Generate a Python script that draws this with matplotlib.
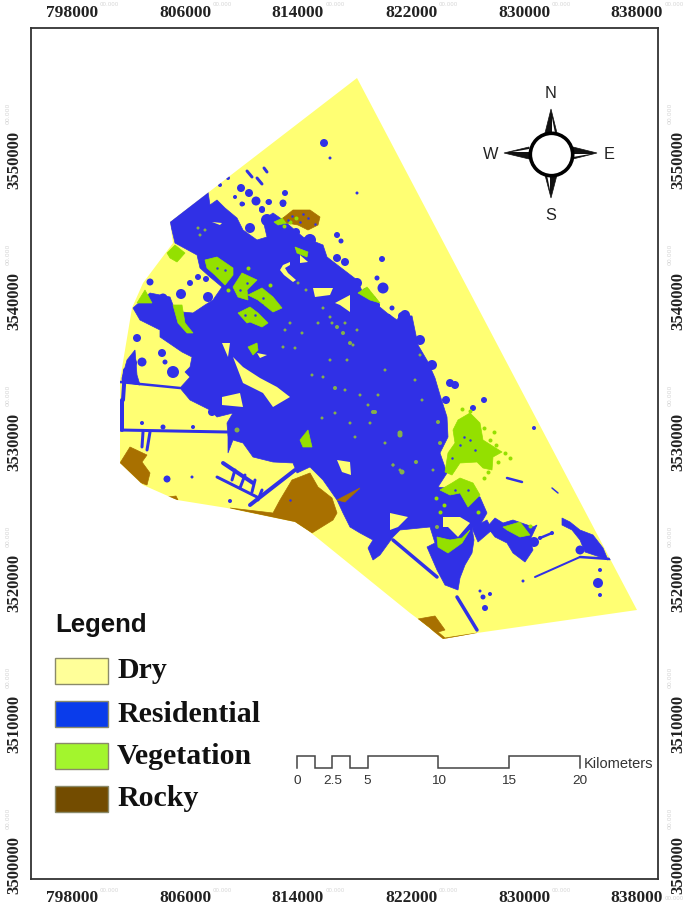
import matplotlib
matplotlib.use("Agg")
import matplotlib.pyplot as plt
from matplotlib.patches import Polygon, Rectangle
from matplotlib.transforms import ScaledTranslation

# map grid labels
x_ticks = [798000, 806000, 814000, 822000, 830000, 838000]
y_ticks = [3500000, 3510000, 3520000, 3530000, 3540000, 3550000]

classes = ["Dry", "Residential", "Vegetation", "Rocky"]
legend_colors = ["#FFFF99", "#0A3CEB", "#A3F52D", "#734C00"]
map_yellow = "#FFFF73"
map_blue = "#3030E6"
map_green = "#94E000"
map_brown = "#A87000"

scale_km = [0, 1.25, 2.5, 3.75, 5, 10, 15, 20]
scale_up = [1, 0, 1, 0, 1, 0, 1]
scale_labels = [0, 2.5, 5, 10, 15, 20]

# outlines, in scan pixels, converted with to_map below
study_area = [(357, 78), (637, 610), (477, 633), (443, 639), (418, 619), (410, 613), (310, 532), (295, 522),
              (227, 508), (177, 500), (143, 485), (120, 463), (120, 433), (120, 380), (132, 308), (143, 283),
              (173, 243), (170, 222)]

residential_main = [(170, 222), (208, 192), (210, 205), (217, 200), (225, 208), (237, 218), (243, 230), (257, 240),
                    (267, 237), (263, 220), (273, 213), (283, 220), (303, 237), (323, 245), (327, 257), (340, 267),
                    (357, 280), (363, 293), (387, 313), (397, 320), (400, 315), (412, 316), (418, 345), (428, 362),
                    (435, 378), (440, 395), (447, 417), (448, 437), (440, 453), (447, 473), (438, 487), (460, 490),
                    (480, 497), (487, 513), (480, 525), (472, 528), (474, 540), (472, 553), (465, 565), (460, 578),
                    (458, 590), (445, 585), (437, 570), (427, 547), (435, 543), (430, 527), (400, 530), (393, 537),
                    (380, 555), (373, 560), (368, 548), (373, 540), (360, 533), (350, 527), (343, 513), (337, 500),
                    (323, 480), (310, 467), (297, 473), (293, 463), (273, 462), (253, 457), (243, 443), (233, 440),
                    (228, 453), (228, 437), (227, 423), (233, 413), (217, 417), (210, 410), (190, 400), (180, 388),
                    (190, 377), (185, 372), (190, 367), (192, 357), (182, 352), (160, 337), (160, 330), (150, 325),
                    (140, 320), (133, 308), (150, 293), (160, 295), (170, 297), (173, 305), (182, 312), (193, 313),
                    (205, 305), (213, 300), (222, 287), (210, 277), (200, 268), (197, 255), (175, 243)]
residential_west = [(122, 378), (127, 360), (135, 350), (137, 375), (140, 385), (122, 382)]
residential_east = [(487, 527), (495, 518), (503, 523), (513, 520), (533, 527), (537, 525), (530, 540), (533, 550),
                    (525, 562), (513, 553), (507, 543), (495, 537), (488, 528)]
residential_far_east = [(562, 518), (570, 522), (580, 530), (593, 535), (603, 548), (608, 560), (597, 556), (585, 552),
                        (580, 540), (572, 530), (562, 525)]
residential_link = [(472, 528), (487, 520), (492, 530), (478, 542)]

# blobs outside the main mass: x, y, diameter in scan pixels
blob_x = [324, 330, 241, 249, 256, 285, 269, 283, 262, 243, 235, 228, 220, 283, 268, 242, 337, 341, 382, 377, 383, 392,
          337, 318, 357, 190, 198, 206, 181, 208, 162, 173, 137, 132, 142, 165, 150, 142, 163, 193, 167, 192, 230, 534,
          534, 540, 552, 523, 598, 600, 580, 483, 490, 485, 480, 600, 473, 484, 455, 450,
          250, 262, 267, 340, 357, 330, 310, 296, 345, 372, 405, 420, 432, 446, 366, 376, 388, 402, 196, 212, 178, 163]
blob_y = [143, 158, 188, 193, 201, 193, 202, 204, 209, 204, 197, 178, 185, 203, 202, 204, 235, 241, 259, 278, 288, 308,
          258, 260, 193, 283, 277, 279, 294, 297, 353, 372, 338, 363, 362, 362, 282, 423, 427, 427, 479, 477, 501, 428,
          542, 538, 533, 581, 583, 570, 550, 597, 594, 608, 591, 595, 408, 400, 385, 383,
          228, 210, 220, 275, 283, 270, 240, 232, 262, 300, 315, 340, 365, 400, 292, 305, 318, 316, 395, 412, 340, 298]
blob_d = [8, 3, 8, 8, 9, 6, 6, 6, 6, 4, 4, 4, 4, 7, 5, 5, 6, 5, 6, 5, 11, 5,
          8, 7, 3, 6, 6, 6, 10, 10, 8, 12, 8, 10, 9, 5, 7, 4, 5, 4, 7, 3, 4, 4,
          10, 4, 4, 3, 10, 4, 9, 5, 4, 6, 3, 4, 6, 6, 8, 8,
          10, 6, 12, 10, 10, 12, 12, 8, 8, 9, 10, 10, 10, 8, 8, 8, 8, 8, 10, 8, 8, 9]

# thin linear built-up strips: (x0, y0, x1, y1, width in scan pixels)
strips = [(120, 382, 180, 388, 2.5), (120, 430, 227, 432, 3), (122, 400, 122, 430, 4), (150, 432, 147, 450, 3),
          (143, 432, 142, 447, 3), (217, 477, 257, 497, 3), (223, 463, 253, 483, 4), (250, 505, 295, 470, 4),
          (235, 470, 232, 480, 3), (245, 475, 240, 488, 3), (255, 480, 252, 492, 3), (262, 490, 258, 500, 3),
          (393, 540, 437, 577, 3.5), (457, 597, 477, 630, 3.5), (247, 171, 252, 177, 3), (257, 178, 262, 184, 3),
          (264, 168, 267, 172, 3), (535, 577, 580, 557, 2), (580, 557, 610, 559, 2.5), (507, 478, 522, 482, 2.5),
          (552, 488, 558, 493, 1.5), (540, 538, 552, 533, 2.5), (123, 400, 125, 370, 4)]

yellow_holes = [[(233, 357), (243, 367), (260, 378), (277, 387), (290, 397), (273, 407), (263, 393), (243, 383), (238, 370)],
                [(222, 397), (240, 393), (243, 407), (222, 405)],
                [(222, 343), (230, 343), (228, 357)],
                [(257, 353), (267, 355), (260, 358)],
                [(313, 288), (333, 288), (330, 295), (315, 297)],
                [(335, 303), (350, 295), (350, 312), (340, 305)],
                [(443, 517), (460, 517), (470, 523), (458, 537), (448, 527), (443, 527)],
                [(390, 513), (408, 517), (398, 527), (390, 530)],
                [(337, 460), (350, 462), (351, 475), (342, 472)],
                [(212, 222), (222, 223), (220, 225)],
                [(280, 270), (283, 265), (290, 262), (290, 265), (285, 268), (288, 273), (296, 280), (293, 282), (284, 275)],
                [(300, 255), (308, 262), (300, 263)]]

vegetation = [[(458, 420), (470, 413), (480, 423), (483, 440), (502, 452), (493, 457), (492, 470), (483, 468),
               (477, 462), (460, 463), (452, 475), (445, 472), (448, 453), (455, 443), (453, 430)],
              [(460, 478), (473, 483), (480, 495), (468, 507), (460, 493), (450, 495), (440, 490), (452, 483)],
              [(437, 537), (450, 540), (462, 538), (470, 530), (462, 543), (448, 553), (438, 547)],
              [(503, 527), (520, 522), (530, 535), (520, 537), (507, 530)],
              [(167, 253), (175, 245), (185, 253), (177, 262), (170, 258)],
              [(205, 260), (217, 257), (233, 268), (233, 275), (225, 285), (215, 275), (207, 268)],
              [(233, 287), (242, 273), (257, 280), (247, 290), (248, 300), (238, 297)],
              [(248, 295), (262, 288), (273, 297), (282, 308), (273, 312), (258, 300)],
              [(238, 313), (250, 307), (258, 313), (268, 323), (262, 327), (250, 322), (247, 323)],
              [(137, 303), (145, 290), (152, 303)],
              [(173, 305), (182, 305), (185, 323), (193, 333), (187, 333), (178, 323)],
              [(248, 347), (257, 343), (258, 350), (253, 355)],
              [(295, 247), (308, 252), (307, 257), (297, 253)],
              [(358, 293), (367, 287), (380, 303), (370, 300)],
              [(300, 440), (308, 430), (312, 447), (303, 447)],
              [(274, 222), (285, 217), (287, 223), (278, 225)]]

rocky = [[(283, 218), (293, 210), (310, 210), (320, 217), (318, 225), (308, 230), (298, 225), (287, 223)],
         [(230, 508), (273, 513), (280, 500), (292, 480), (310, 473), (318, 487), (332, 498), (337, 513), (333, 520),
          (312, 533), (295, 522)],
         [(337, 500), (360, 488), (345, 502)],
         [(120, 463), (130, 447), (147, 455), (142, 462), (150, 473), (147, 485), (133, 480), (123, 470)],
         [(418, 619), (435, 616), (445, 630), (438, 632), (445, 638), (477, 633), (442, 640), (430, 628)],
         [(168, 497), (176, 496), (178, 500)]]

# mixed pixels scattered inside the built-up area
speck_x = [323, 330, 318, 337, 343, 350, 357, 332, 345, 353, 285, 302, 290, 283, 295, 323, 335, 375, 330, 347,
           237, 373, 400, 402, 355, 370, 385, 322, 350, 393, 335, 400, 416, 422, 400, 438, 440, 433, 393, 437,
           198, 205, 200, 298, 306, 345, 360, 415, 420, 385, 378, 368, 312]
speck_y = [308, 317, 323, 327, 333, 343, 330, 323, 323, 345, 330, 333, 323, 347, 348, 377, 388, 412, 360, 360,
           430, 412, 433, 472, 437, 423, 443, 418, 423, 465, 413, 435, 462, 400, 470, 422, 443, 470, 465, 527,
           228, 230, 235, 283, 290, 390, 395, 380, 355, 370, 395, 405, 375]
speck_d = [3, 3, 3, 4, 4, 4, 3, 3, 3, 3, 3, 3, 3, 3, 3, 3, 4, 4, 3, 3,
           5, 4, 5, 5, 3, 3, 3, 3, 3, 3, 3, 5, 4, 3, 3, 4, 4, 3, 3, 4,
           3, 3, 3, 3, 3, 3, 3, 3, 3, 3, 3, 3, 3]

# loose vegetation around the big patches
veg_dot_x = [484, 490, 496, 505, 498, 488, 470, 462, 494, 510, 296, 290, 284, 444, 440, 436, 478, 484, 530, 228, 248, 270]
veg_dot_y = [428, 440, 445, 453, 462, 472, 411, 409, 432, 458, 218, 222, 226, 505, 512, 498, 512, 478, 526, 290, 268, 285]

# built-up pixels showing through vegetation and rock
through_x = [225, 217, 247, 240, 263, 255, 470, 460, 475, 455, 468, 464, 452, 245, 262, 292, 300, 308, 288, 303, 315, 290]
through_y = [270, 268, 283, 290, 298, 315, 440, 445, 450, 490, 490, 437, 458, 315, 305, 216, 222, 218, 220, 214, 224, 500]


# scan pixel -> map coordinates
def to_map(px, py):
    return 798000 + (px - 72) / 113 * 8000, 3550000 - (py - 160) / 141 * 10000


def map_pts(pts):
    return [to_map(p[0], p[1]) for p in pts]


def d2s(d):
    return (d * 0.72) ** 2


fig = plt.figure(figsize=(6.85, 9.06), dpi=100)
ax = fig.add_axes([31 / 685, 1 - 879 / 906, (658 - 31) / 685, (879 - 28) / 906])
x0, y1 = to_map(31, 28)
x1, y0 = to_map(658, 879)
ax.set_xlim(x0, x1)
ax.set_ylim(y0, y1)

map_artists = []
for part in [residential_main, residential_west, residential_east, residential_far_east, residential_link]:
    map_artists.append(ax.add_patch(Polygon(map_pts(part), fc=map_blue, ec=map_blue, lw=0.5, zorder=2)))

bx, by = zip(*map_pts(list(zip(blob_x, blob_y))))
map_artists.append(ax.scatter(bx, by, s=[d2s(d) for d in blob_d], c=map_blue, lw=0, zorder=2))

for sx0, sy0, sx1, sy1, w in strips:
    (a, b), (c, d) = to_map(sx0, sy0), to_map(sx1, sy1)
    map_artists.extend(ax.plot([a, c], [b, d], color=map_blue, lw=w * 0.72, solid_capstyle="round", zorder=2))

for hole in yellow_holes:
    map_artists.append(ax.add_patch(Polygon(map_pts(hole), fc=map_yellow, ec="none", zorder=3)))
for patch in vegetation:
    map_artists.append(ax.add_patch(Polygon(map_pts(patch), fc=map_green, ec=map_green, lw=0.5, zorder=4)))
for patch in rocky:
    map_artists.append(ax.add_patch(Polygon(map_pts(patch), fc=map_brown, ec=map_brown, lw=0.5, zorder=4)))

sx, sy = zip(*map_pts(list(zip(speck_x, speck_y))))
map_artists.append(ax.scatter(sx, sy, s=[d2s(d) for d in speck_d], c="#86B04A", lw=0, zorder=5))
vx, vy = zip(*map_pts(list(zip(veg_dot_x, veg_dot_y))))
map_artists.append(ax.scatter(vx, vy, s=d2s(4), c=map_green, lw=0, zorder=4))
tx, ty = zip(*map_pts(list(zip(through_x, through_y))))
map_artists.append(ax.scatter(tx, ty, s=d2s(2.5), c=map_blue, lw=0, zorder=5))

footprint = ax.add_patch(Polygon(map_pts(study_area), fc=map_yellow, ec="none", zorder=1))
for art in map_artists:
    art.set_clip_path(footprint)

# grid labels
ax.set_xticks(x_ticks)
ax.set_yticks(y_ticks)
ax.set_xticklabels([str(v) for v in x_ticks], family="Liberation Serif", weight="bold", fontsize=12.5, color="#222222")
ax.set_yticklabels([str(v) for v in y_ticks], family="Liberation Serif", weight="bold", fontsize=12, color="#222222",
                   rotation=90, va="center")
ax.tick_params(axis="x", length=0, pad=8, top=True, labeltop=True)
ax.tick_params(axis="y", length=0, pad=8, right=True, labelright=True)
for tick in ax.xaxis.get_major_ticks():
    tick.label2.set_transform(tick.label2.get_transform() + ScaledTranslation(0, -3 / 72, fig.dpi_scale_trans))
for tick in ax.yaxis.get_major_ticks():
    tick.label1.set_transform(tick.label1.get_transform() + ScaledTranslation(2 / 72, 0, fig.dpi_scale_trans))
    tick.label2.set_transform(tick.label2.get_transform() + ScaledTranslation(0.7 / 72, 0, fig.dpi_scale_trans))
for s in ax.spines.values():
    s.set_linewidth(1.3)
    s.set_color("#333333")

# faint seconds marks next to the grid labels
for v in x_ticks:
    low = 898 if v == x_ticks[-1] else 890
    for py in [5, low]:
        ax.annotate("00.000", xy=(v, to_map(0, py)[1]), xytext=(20, 0), textcoords="offset points", fontsize=4,
                    color="#d5d5d5", ha="left", va="center", annotation_clip=False)
for v in y_ticks:
    for qx in [8, 670]:
        ax.annotate("00.000", xy=(to_map(qx, 0)[0], v), xytext=(0, 26), textcoords="offset points", fontsize=4.5,
                    color="#d5d5d5", rotation=90, ha="center", va="bottom", annotation_clip=False)

# legend
ax.text(*to_map(55, 625), "Legend", family="Liberation Sans", weight="bold", fontsize=18.5, color="#111111", va="center")
legend_tops = [658, 701, 743, 786]
for name, col, top in zip(classes, legend_colors, legend_tops):
    lx, ly = to_map(55, top + 26)
    ux, uy = to_map(108, top)
    ax.add_patch(Rectangle((lx, ly), ux - lx, uy - ly, fc=col, ec="#8a8a6a", lw=1, zorder=6))
    ax.text(*to_map(117, top + 13), name, family="Liberation Serif", weight="bold", fontsize=21.5, color="#111111",
            va="center", ha="left")

# scale bar
sb_x, sb_top = to_map(297, 756)
sb_bot = to_map(297, 768)[1]
xs = [sb_x + scale_km[0] * 1000]
ys = [sb_bot]
for i, up in enumerate(scale_up):
    lvl = sb_top if up else sb_bot
    xs += [sb_x + scale_km[i] * 1000, sb_x + scale_km[i + 1] * 1000]
    ys += [lvl, lvl]
xs.append(sb_x + scale_km[-1] * 1000)
ys.append(sb_bot)
ax.plot(xs, ys, color="#444444", lw=1.1, solid_joinstyle="miter", zorder=6)
label_y = to_map(0, 781)[1]
for km in scale_labels:
    ax.text(sb_x + km * 1000, label_y, f"{km:g}", family="Liberation Sans", fontsize=9.7, color="#333333", ha="center",
            va="center")
ax.text(*to_map(584, 764), "Kilometers", family="Liberation Sans", fontsize=10.5, color="#333333", ha="left", va="center")

# north arrow: black spikes with a white sliver, ring on top
spikes = [[(551, 109), (545, 133), (557, 133)], [(551, 198), (545, 175), (557, 175)],
          [(597, 153), (573, 147), (573, 159)], [(504, 153), (529, 147), (529, 159)]]
slivers = [[(552, 118), (552, 133), (555, 133)], [(550, 190), (550, 175), (547, 175)],
           [(590, 154), (573, 154), (573, 157)], [(512, 152), (529, 152), (529, 149)]]
for spike in spikes:
    ax.add_patch(Polygon(map_pts(spike), fc="#111111", ec="#111111", lw=0.5, zorder=6))
for sliver in slivers:
    ax.add_patch(Polygon(map_pts(sliver), fc="white", ec="none", zorder=6))
cx, cy = to_map(551, 154)
ax.plot([cx], [cy], "o", ms=30.5, mfc="white", mec="#000000", mew=2.6, zorder=7)
for label, px, py in [("N", 551, 94), ("W", 491, 154), ("E", 609, 154), ("S", 551, 215)]:
    ax.text(*to_map(px, py), label, family="Liberation Sans", fontsize=11.8, color="#222222", ha="center", va="center")

plt.savefig("out.png", dpi=100)
plt.close()
